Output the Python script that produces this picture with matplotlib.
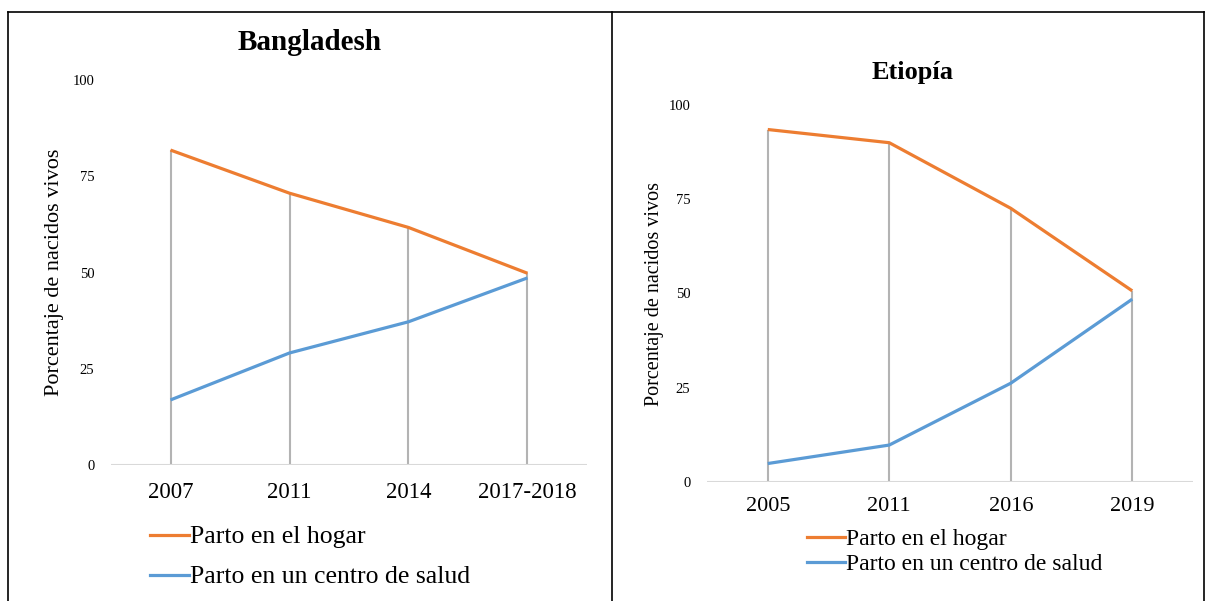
import matplotlib
matplotlib.use("Agg")
import matplotlib.pyplot as plt
from matplotlib.lines import Line2D

plt.rcParams['font.family'] = ['Liberation Serif', 'DejaVu Serif']

# Data
bd_years = ["2007", "2011", "2014", "2017-2018"]
bd_home = [81.8, 70.6, 61.7, 49.8]
bd_facility = [16.9, 29.1, 37.2, 48.6]

et_years = ["2005", "2011", "2016", "2019"]
et_home = [93.5, 90.0, 72.6, 50.7]
et_facility = [4.9, 9.8, 26.2, 48.5]

series_labels = ["Parto en el hogar", "Parto en un centro de salud"]
yticks = [0, 25, 50, 75, 100]
ylabel = "Porcentaje de nacidos vivos"

ORANGE = "#ED7D31"
BLUE = "#5B9BD5"
W, H = 1206, 601

fig = plt.figure(figsize=(W / 100, H / 100), dpi=100)


def fx(px):
    return px / W


def fy(py):
    return 1 - py / H


def panel(rect, years, home, fac, title, title_xy, title_size, ylabel_x, ylabel_size,
          xpad, ypad, xtsize, ytsize, legend_rows, legend_size):
    ax = fig.add_axes(rect)
    x = list(range(len(years)))
    ax.vlines(x, 0, home, color="#b3b3b3", lw=1.5, zorder=1)
    ax.axhline(0, color="#d9d9d9", lw=1.5, zorder=1)
    ax.plot(x, home, color=ORANGE, lw=2.3, solid_capstyle="butt", zorder=3)
    ax.plot(x, fac, color=BLUE, lw=2.3, solid_capstyle="butt", zorder=3)
    ax.set_xlim(-0.5, len(years) - 0.5)
    ax.set_ylim(0, 100)
    ax.set_xticks(x)
    ax.set_xticklabels(years, fontsize=xtsize)
    ax.set_yticks(yticks)
    ax.set_yticklabels([str(v) for v in yticks], fontsize=ytsize)
    ax.tick_params(axis="x", length=0, pad=xpad)
    ax.tick_params(axis="y", length=0, pad=ypad)
    for s in ax.spines.values():
        s.set_visible(False)
    fig.text(fx(title_xy[0]), fy(title_xy[1]), title, ha="center", va="center",
             fontsize=title_size, fontweight="bold")
    bb = ax.get_position()
    fig.text(fx(ylabel_x), bb.y0 + bb.height / 2, ylabel, rotation=90,
             ha="center", va="center", fontsize=ylabel_size)
    for (lx0, lx1, ly), col, lab in zip(legend_rows, [ORANGE, BLUE], series_labels):
        fig.add_artist(Line2D([fx(lx0), fx(lx1)], [fy(ly), fy(ly)], color=col, lw=2.3,
                              transform=fig.transFigure))
        fig.text(fx(lx1 + 1), fy(ly + 2), lab, ha="left", va="center", fontsize=legend_size)
    return ax


panel([fx(111), fy(465), fx(587) - fx(111), fy(80) - fy(465)],
      bd_years, bd_home, bd_facility, "Bangladesh", (310, 43), 21, 55, 16,
      12, 12, 16.5, 10.5, [(150, 189, 535), (150, 189, 575)], 18.5)

panel([fx(707), fy(482), fx(1193) - fx(707), fy(105) - fy(482)],
      et_years, et_home, et_facility, "Etiopía", (913, 73), 19, 655, 14.5,
      11, 12, 16, 10.5, [(807, 845, 537), (807, 845, 562)], 17)

# table borders
for seg in [((8, 1204), (12, 12)), ((8, 8), (12, 601)), ((612, 612), (12, 601)),
            ((1204, 1204), (12, 601))]:
    fig.add_artist(Line2D([fx(seg[0][0]), fx(seg[0][1])], [fy(seg[1][0]), fy(seg[1][1])],
                          color="black", lw=1.2, transform=fig.transFigure))

fig.savefig("out.png", dpi=100)
